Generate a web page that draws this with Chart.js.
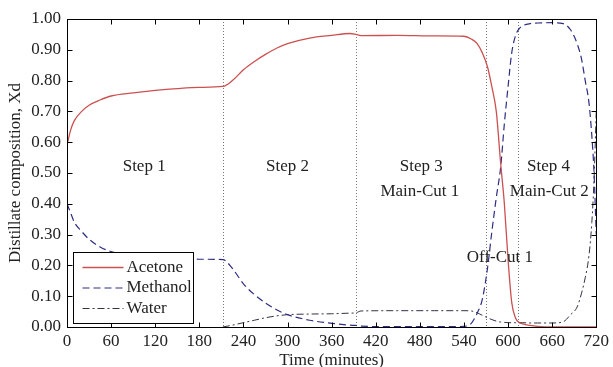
<!DOCTYPE html>
<html>
<head>
<meta charset="utf-8">
<script src="https://cdn.jsdelivr.net/npm/chart.js@4.4.0/dist/chart.umd.min.js"></script>
<style>
  html, body { margin: 0; padding: 0; background: #fff; }
</style>
</head>
<body>
<canvas id="chart" width="613" height="367"></canvas>
<script>
// time grid (minutes) and distillate mole fractions
const times = [0, 5, 10, 20, 30, 45, 60, 90, 120, 150, 180, 212, 225, 240, 255, 270, 285, 300, 330, 360, 385, 393, 400,
  450, 500, 540, 550, 558, 565, 572, 578, 584, 590, 595, 600, 605, 610, 615, 620, 630, 640, 660, 675, 685, 694, 700,
  705, 710, 714, 717, 720];
const acetone = [0.59, 0.64, 0.67, 0.70, 0.72, 0.737, 0.75, 0.76, 0.768, 0.774, 0.778, 0.781, 0.80, 0.835, 0.862, 0.885,
  0.905, 0.92, 0.938, 0.947, 0.953, 0.95, 0.946, 0.947, 0.945, 0.944, 0.935, 0.92, 0.89, 0.845, 0.78, 0.70, 0.53, 0.40,
  0.22, 0.08, 0.03, 0.015, 0.01, 0.005, 0.002, 0, 0, 0, 0, 0, 0, 0, 0, 0, 0];
const methanol = [0.40, 0.37, 0.34, 0.31, 0.285, 0.26, 0.245, 0.232, 0.226, 0.222, 0.22, 0.219, 0.19, 0.14, 0.105, 0.078,
  0.056, 0.04, 0.022, 0.012, 0.006, 0.005, 0.003, 0.001, 0.001, 0.002, 0.012, 0.045, 0.09, 0.19, 0.31, 0.42, 0.52, 0.66,
  0.78, 0.89, 0.945, 0.968, 0.978, 0.985, 0.987, 0.988, 0.985, 0.965, 0.92, 0.87, 0.80, 0.73, 0.62, 0.50, 0.30];
// water only shows up once step 2 starts
const water = [null, null, null, null, null, null, null, null, null, null, null, 0, 0.006, 0.014, 0.022, 0.03, 0.036,
  0.04, 0.042, 0.043, 0.045, 0.046, 0.052, 0.053, 0.053, 0.053, 0.052, 0.046, 0.038, 0.03, 0.024, 0.019, 0.016, 0.015,
  0.014, 0.014, 0.014, 0.014, 0.014, 0.013, 0.013, 0.013, 0.017, 0.04, 0.065, 0.11, 0.16, 0.23, 0.34, 0.48, 0.70];

// step boundaries and the notes written on the plot
const cutTimes = [212, 393, 570, 614];
const noteText = ['Step 1', 'Step 2', 'Step 3', 'Main-Cut 1', 'Step 4', 'Main-Cut 2', 'Off-Cut 1'];
const noteTime = [105, 300, 482, 480, 655, 656, 589];
const noteValue = [0.52, 0.52, 0.52, 0.44, 0.52, 0.44, 0.224];

const FONT = "'Liberation Serif', 'Times New Roman', serif";
const TEXT = '#222';
Chart.defaults.font.family = FONT;
Chart.defaults.font.size = 17;
Chart.defaults.color = TEXT;

const toPoints = vals => times.map((t, i) => ({ x: t, y: vals[i] }));

const decor = {
  id: 'decor',
  beforeDatasetsDraw(chart) {
    const { ctx, chartArea: a, scales: { x } } = chart;
    ctx.save();
    ctx.strokeStyle = '#777';
    ctx.lineWidth = 1;
    ctx.setLineDash([1, 2]);
    cutTimes.forEach(t => {
      const px = Math.round(x.getPixelForValue(t)) + 0.5;
      ctx.beginPath();
      ctx.moveTo(px, a.top);
      ctx.lineTo(px, a.bottom);
      ctx.stroke();
    });
    ctx.restore();
  },
  afterDatasetsDraw(chart) {
    const { ctx, chartArea: a, scales: { x, y } } = chart;
    ctx.save();
    // box and inward ticks
    ctx.strokeStyle = '#000';
    ctx.lineWidth = 1;
    ctx.setLineDash([]);
    const L = Math.round(a.left) + 0.5, R = Math.round(a.right) + 0.5;
    const T = Math.round(a.top) + 0.5, B = Math.round(a.bottom) + 0.5;
    ctx.strokeRect(L, T, R - L, B - T);
    ctx.beginPath();
    x.ticks.forEach(tk => {
      const px = Math.round(x.getPixelForValue(tk.value)) + 0.5;
      ctx.moveTo(px, B); ctx.lineTo(px, B - 5);
      ctx.moveTo(px, T); ctx.lineTo(px, T + 5);
    });
    y.ticks.forEach(tk => {
      const py = Math.round(y.getPixelForValue(tk.value)) + 0.5;
      ctx.moveTo(L, py); ctx.lineTo(L + 5, py);
      ctx.moveTo(R, py); ctx.lineTo(R - 5, py);
    });
    ctx.stroke();

    // notes
    ctx.fillStyle = TEXT;
    ctx.font = '17px ' + FONT;
    ctx.textAlign = 'center';
    ctx.textBaseline = 'middle';
    noteText.forEach((s, i) => {
      ctx.fillText(s, x.getPixelForValue(noteTime[i]), y.getPixelForValue(noteValue[i]));
    });

    // legend box in the lower left corner
    const lx = L + 6, ly = B - 75, lw = 120, lh = 71;
    ctx.fillStyle = '#fff';
    ctx.fillRect(lx, ly, lw, lh);
    ctx.strokeStyle = '#000';
    ctx.strokeRect(lx, ly, lw, lh);
    ctx.textAlign = 'left';
    chart.data.datasets.forEach((ds, i) => {
      const yy = ly + 15 + i * 20.5;
      ctx.strokeStyle = ds.borderColor;
      ctx.lineWidth = ds.borderWidth;
      ctx.setLineDash(ds.borderDash || []);
      ctx.beginPath();
      ctx.moveTo(lx + 9, yy);
      ctx.lineTo(lx + 50, yy);
      ctx.stroke();
      ctx.fillStyle = TEXT;
      ctx.fillText(ds.label, lx + 53, yy);
    });
    ctx.restore();
  }
};

new Chart(document.getElementById('chart'), {
  type: 'line',
  data: {
    datasets: [
      { label: 'Acetone', data: toPoints(acetone), borderColor: 'rgb(205, 80, 80)', borderWidth: 1.3 },
      { label: 'Methanol', data: toPoints(methanol), borderColor: 'rgb(45, 45, 130)', borderWidth: 1.2, borderDash: [7, 4] },
      { label: 'Water', data: toPoints(water), borderColor: 'rgb(50, 50, 70)', borderWidth: 1, borderDash: [7, 3, 2, 3] }
    ]
  },
  options: {
    responsive: false,
    animation: false,
    spanGaps: false,
    layout: { padding: { top: 19, right: 13, left: 0, bottom: 0 } },
    elements: {
      point: { radius: 0 },
      line: { cubicInterpolationMode: 'monotone', fill: false }
    },
    plugins: { legend: { display: false }, tooltip: { enabled: false } },
    scales: {
      x: {
        type: 'linear',
        min: 0,
        max: 720,
        grid: { display: false, drawTicks: false },
        border: { display: false },
        ticks: { stepSize: 60, padding: 4, maxRotation: 0 },
        title: { display: true, text: 'Time (minutes)', font: { size: 17, lineHeight: 1 }, padding: { top: 0, bottom: -2 } },
        afterFit: s => { s.height = 40; }
      },
      y: {
        min: 0,
        max: 1,
        grid: { display: false, drawTicks: false },
        border: { display: false },
        ticks: { stepSize: 0.1, padding: 6, callback: v => v.toFixed(2) },
        title: { display: true, text: 'Distillate composition, Xd', font: { size: 17, lineHeight: 1 }, padding: { top: 7, bottom: 0 } },
        afterFit: s => { s.width = 67; }
      }
    }
  },
  plugins: [decor]
});
</script>
</body>
</html>
